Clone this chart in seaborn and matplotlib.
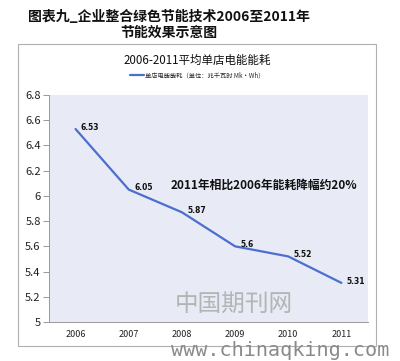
import matplotlib
matplotlib.use("Agg")
import matplotlib.pyplot as plt
import seaborn as sns
import pandas as pd
from matplotlib.patches import Rectangle

years = ["2006", "2007", "2008", "2009", "2010", "2011"]
energy = [6.53, 6.05, 5.87, 5.6, 5.52, 5.31]
value_labels = ["6.53", "6.05", "5.87", "5.6", "5.52", "5.31"]
yticks = [5, 5.2, 5.4, 5.6, 5.8, 6, 6.2, 6.4, 6.6, 6.8]
ytick_labels = ["5", "5.2", "5.4", "5.6", "5.8", "6", "6.2", "6.4", "6.6", "6.8"]
series_name = "单店电能能耗（单位：兆千瓦时 Mk•Wh）"
main_title = "图表九_企业整合绿色节能技术2006至2011年\n节能效果示意图"
chart_title = "2006-2011平均单店电能能耗"
note = "2011年相比2006年能耗降幅约20%"

sns.set_theme(style="white")
plt.rcParams["font.family"] = ["Noto Sans CJK SC", "DejaVu Sans"]

df = pd.DataFrame({"year": years, "energy": energy})

fig = plt.figure(figsize=(4.0, 3.61), dpi=100)
fig.patch.set_facecolor("white")

# outer chart frame
fig.patches.append(Rectangle((18 / 400, 1 - 346 / 361), (376 - 18) / 400, (346 - 44) / 361,
                             transform=fig.transFigure, fill=False, edgecolor="#b0b0b0", lw=0.8))

ax = fig.add_axes([49 / 400, 1 - 322 / 361, (368 - 49) / 400, (322 - 95) / 361])
ax.set_facecolor("#e8eaf5")

sns.lineplot(data=df, x="year", y="energy", ax=ax, color="#4a6fcf", lw=1.6,
             label=series_name, sort=False)

for i, (v, t) in enumerate(zip(energy, value_labels)):
    ax.text(i + 0.1, v + 0.015, t, fontsize=5.5, fontweight="bold", color="#111111",
            ha="left", va="center", family=["DejaVu Sans"])

ax.text(3.55, 6.085, note, fontsize=8.5, fontweight="bold", ha="center", va="center",
        color="#111111")

ax.set_xlim(-0.5, 5.5)
ax.set_ylim(5, 6.8)
ax.set_yticks(yticks)
ax.set_yticklabels(ytick_labels, fontsize=8, color="#222222")
ax.tick_params(axis="x", labelsize=6.5, colors="#222222", length=0, pad=6)
ax.tick_params(axis="y", length=4, width=0.6, color="#888888", pad=2, left=True)
ax.set_xlabel("")
ax.set_ylabel("")
for s in ["top", "right"]:
    ax.spines[s].set_visible(False)
for s in ["left", "bottom"]:
    ax.spines[s].set_color("#999999")
    ax.spines[s].set_linewidth(0.7)

leg = ax.legend(loc="center", bbox_to_anchor=(197 / 400, 1 - 75 / 361),
                bbox_transform=fig.transFigure, frameon=False, fontsize=4.5,
                handlelength=2.2, handletextpad=0.2, borderpad=0)

fig.text(169 / 400, 1 - 25 / 361, main_title, fontsize=10.0, fontweight="bold",
         ha="center", va="center", linespacing=1.1, color="#111111")
fig.text(197 / 400, 1 - 60 / 361, chart_title, fontsize=8.3, ha="center", va="center",
         color="#111111")

# watermarks
fig.text(234 / 400, 1 - 304 / 361, "中国期刊网", fontsize=17, color="#b4b4b4",
         ha="center", va="center")
fig.text(280 / 400, 1 - 350 / 361, "www.chinaqking.com", fontsize=14.5, color="#8a8a8a",
         ha="center", va="center", family=["DejaVu Sans Mono"])

fig.savefig("out.png", dpi=100)
